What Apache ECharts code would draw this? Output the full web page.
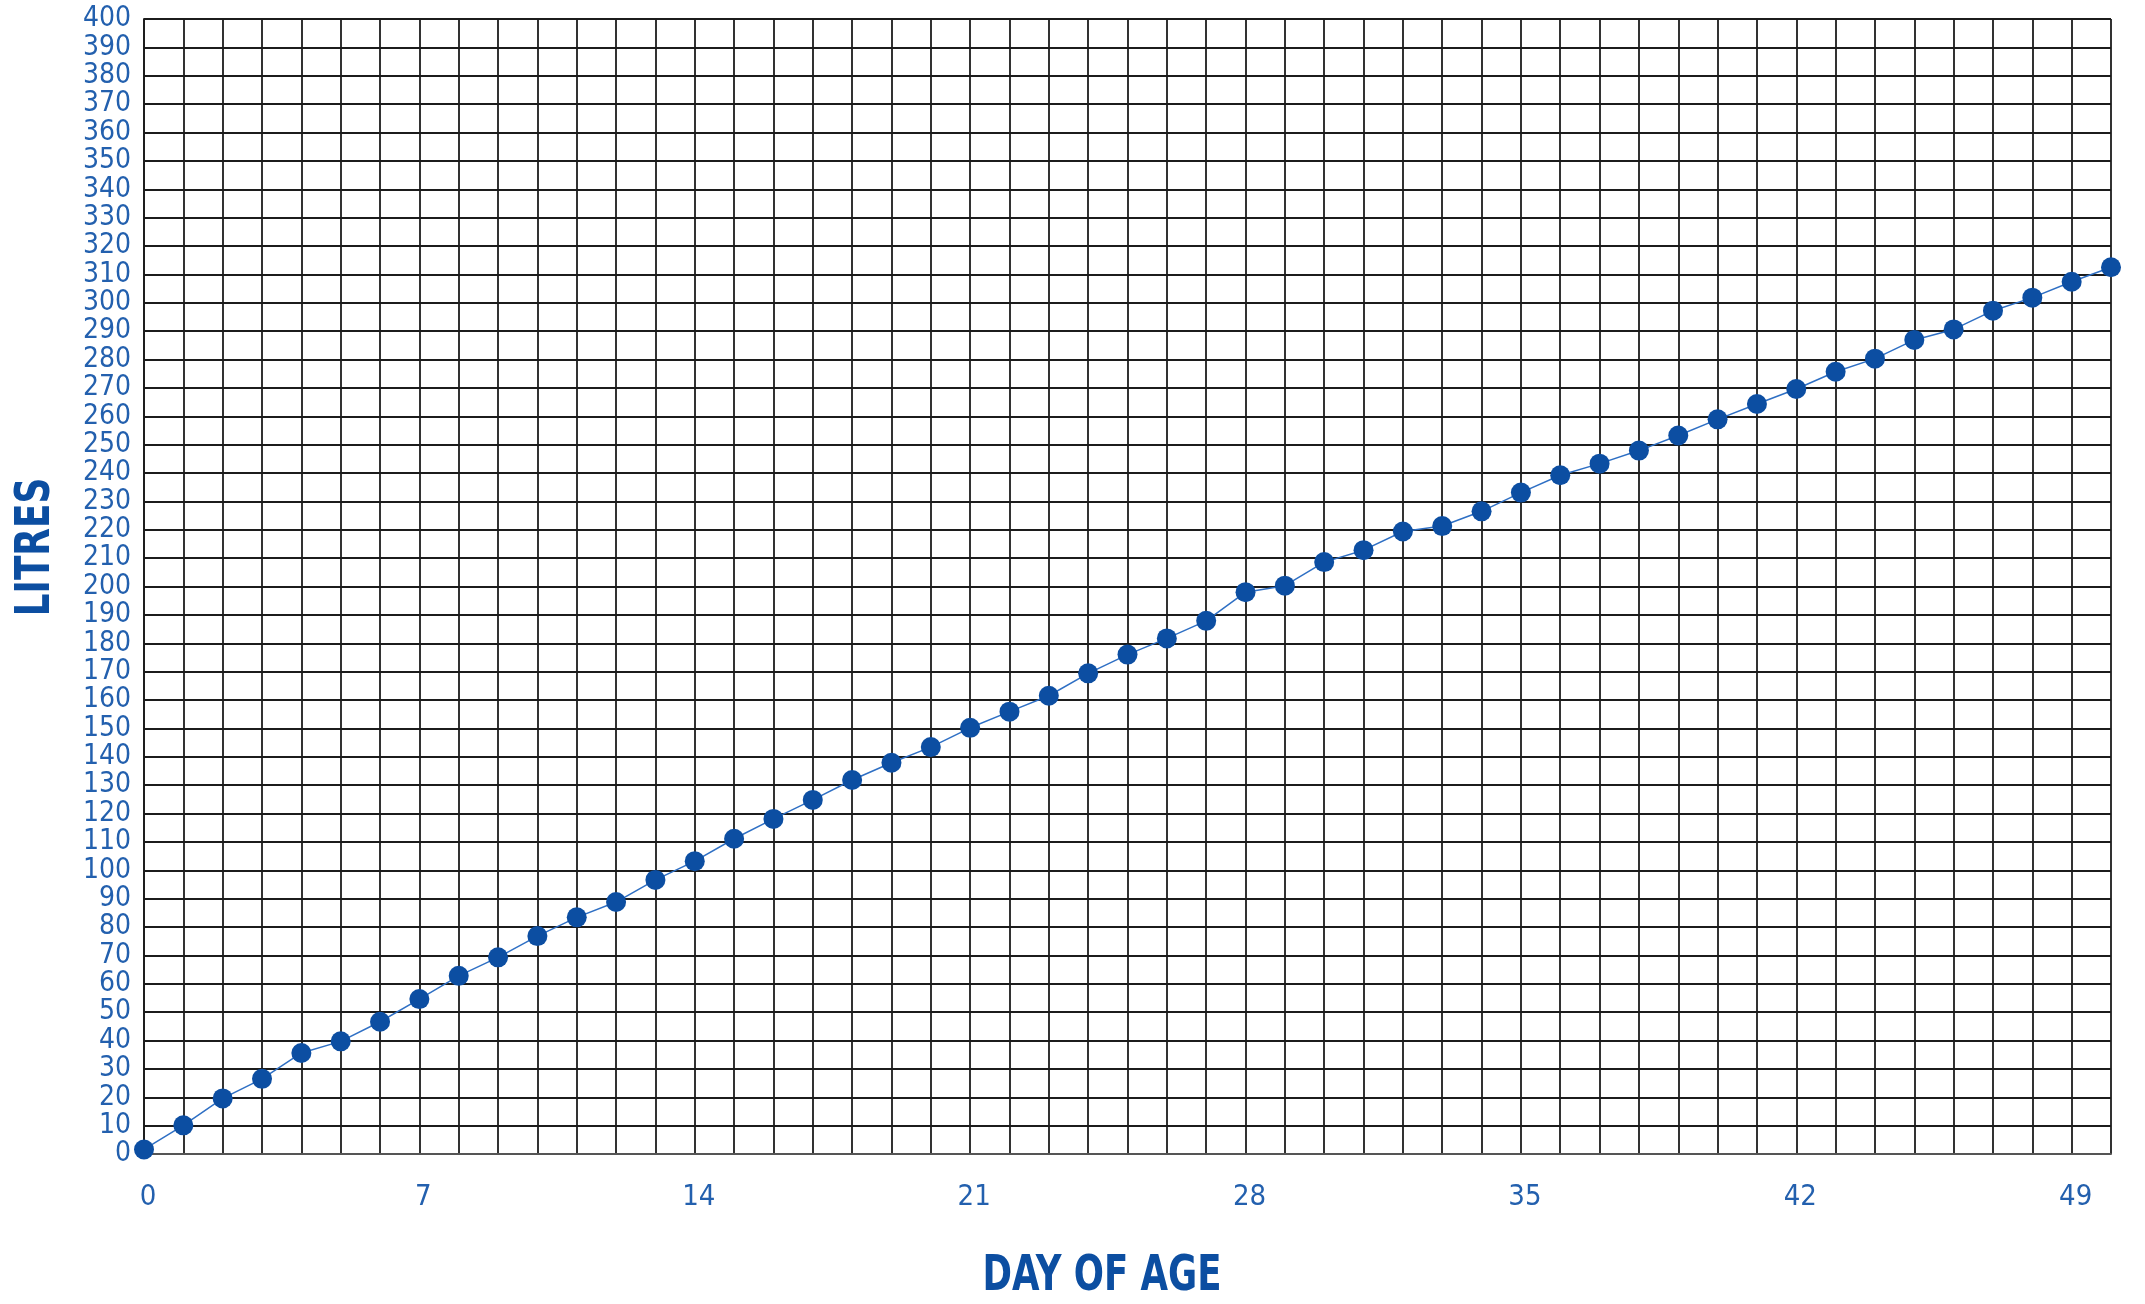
<!DOCTYPE html>
<html>
<head>
<meta charset="utf-8">
<script src="https://cdn.jsdelivr.net/npm/echarts@6/dist/echarts.min.js"></script>
<style>
html,body{margin:0;padding:0;background:#fff;}
#chart{width:2145px;height:1304px;}
</style>
</head>
<body>
<div id="chart"></div>
<script>
// Day of age (x) and litres (y)
const days = [0,1,2,3,4,5,6,7,8,9,10,11,12,13,14,15,16,17,18,19,20,21,22,23,24,25,26,27,28,29,30,31,32,33,34,35,36,37,38,39,40,41,42,43,44,45,46,47,48,49,50];
const litres = [1.6,10.1,19.6,26.5,35.6,39.7,46.6,54.6,62.8,69.3,76.8,83.4,88.8,96.6,103.2,111.1,118.1,124.8,131.8,137.9,143.4,150.2,155.9,161.5,169.4,176.0,181.7,187.9,198.0,200.3,208.6,212.8,219.4,221.3,226.5,233.1,239.2,243.3,247.9,253.2,258.9,264.3,269.6,275.7,280.3,286.9,290.6,297.2,301.8,307.4,312.5];
// Trend line continues past the last point
const extensionDays = [50, 50.8];
const extensionLitres = [312.5, 316.5];
const xTickLabels = [0,7,14,21,28,35,42,49];
const xTitle = 'DAY OF AGE';
const yTitle = 'LITRES';

const labelFont = '"DejaVu Sans Condensed", "DejaVu Sans", sans-serif';
const labelColor = '#2360ae';
const titleColor = '#0c4ea1';
const gridColor = '#1c1c1c';

const chart = echarts.init(document.getElementById('chart'));
chart.setOption({
  animation: false,
  backgroundColor: '#ffffff',
  grid: { left: 144, top: 19, right: 34, bottom: 150, containLabel: false },
  xAxis: {
    type: 'value', min: 0, max: 50, interval: 1,
    axisLine: { show: true, onZero: false, lineStyle: { color: '#555555', width: 2 } },
    axisTick: { show: false },
    splitLine: { show: true, lineStyle: { color: gridColor, width: 1.8 } },
    axisLabel: {
      margin: 29, color: labelColor, fontFamily: labelFont, fontSize: 29,
      showMaxLabel: false, padding: [0, 0, 0, 8],
      formatter: v => xTickLabels.includes(v) ? String(v) : ''
    }
  },
  yAxis: {
    type: 'value', min: 0, max: 400, interval: 10,
    axisLine: { show: true, lineStyle: { color: gridColor, width: 1.8 } },
    axisTick: { show: false },
    splitLine: { show: true, lineStyle: { color: gridColor, width: 1.8 } },
    axisLabel: {
      margin: 13, color: labelColor, fontFamily: labelFont, fontSize: 28,
      showMinLabel: true, showMaxLabel: true, hideOverlap: false
    }
  },
  graphic: [
    {
      type: 'text', z: 10, x: 1102, y: 1277, scaleX: 0.79, scaleY: 1,
      style: { text: xTitle, fill: titleColor, font: 'bold 50px ' + labelFont, textAlign: 'center', textVerticalAlign: 'middle' }
    },
    {
      type: 'text', z: 10, x: 37, y: 547, rotation: Math.PI / 2, scaleX: 0.83, scaleY: 1,
      style: { text: yTitle, fill: titleColor, font: 'bold 48px ' + labelFont, textAlign: 'center', textVerticalAlign: 'middle' }
    }
  ],
  series: [
    {
      type: 'line', clip: false,
      data: days.map((d, i) => [d, litres[i]]),
      symbol: 'circle', symbolSize: 20,
      itemStyle: { color: '#0c4ea2' },
      lineStyle: { color: '#2e6fc4', width: 1.5 },
      z: 5
    },
    {
      type: 'line', clip: false,
      data: extensionDays.map((d, i) => [d, extensionLitres[i]]),
      symbol: 'none',
      lineStyle: { color: '#2e6fc4', width: 1.5 },
      z: 4
    }
  ]
});
</script>
</body>
</html>
